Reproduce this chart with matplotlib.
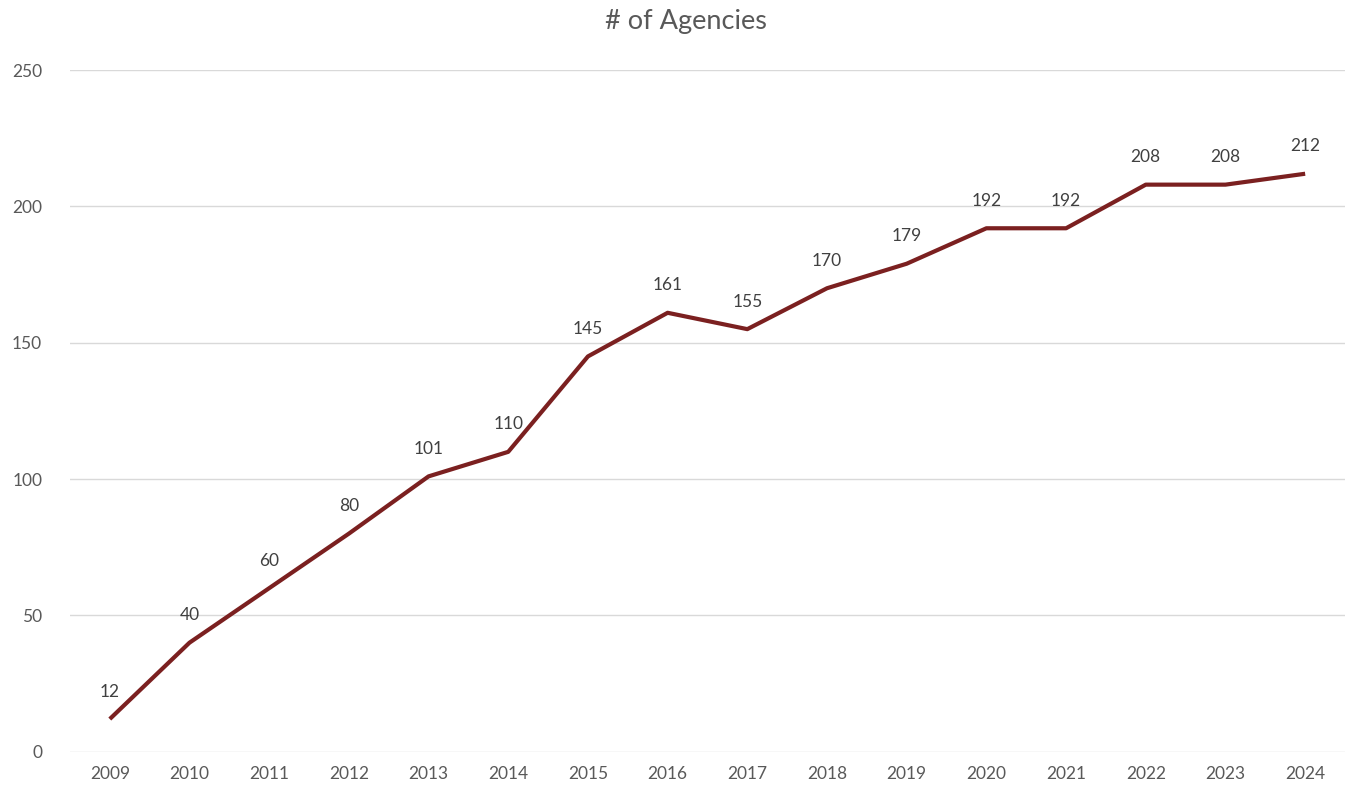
import matplotlib.pyplot as plt

years = ['2009', '2010', '2011', '2012', '2013', '2014', '2015', '2016',
         '2017', '2018', '2019', '2020', '2021', '2022', '2023', '2024']
agencies = [12, 40, 60, 80, 101, 110, 145, 161, 155, 170, 179, 192, 192, 208, 208, 212]

plt.rcParams['font.family'] = ['Lato', 'DejaVu Sans']

fig = plt.figure(figsize=(13.45, 7.88), dpi=100)
ax = fig.add_axes([0.052, 0.046, 0.948, 0.865])

x = range(len(years))
ax.plot(x, agencies, color='#7B2020', linewidth=3, solid_capstyle='butt')

# etiquetas de dados acima de cada ponto
for i, v in zip(x, agencies):
    ax.annotate(str(v), (i, v), xytext=(0, 14), textcoords='offset points',
                ha='center', va='bottom', fontsize=12.5, color='#404040')

ax.set_xlim(-0.5, len(years) - 0.5)
ax.set_ylim(0, 250)
ax.set_yticks([0, 50, 100, 150, 200, 250])
ax.set_xticks(list(x))
ax.set_xticklabels(years)
ax.tick_params(axis='both', length=0, labelsize=12.5, labelcolor='#595959')
ax.tick_params(axis='y', pad=20)
ax.tick_params(axis='x', pad=10)
ax.grid(axis='y', color='#D9D9D9', linewidth=1)
ax.set_axisbelow(True)
for s in ax.spines.values():
    s.set_visible(False)

fig.suptitle('# of Agencies', x=0.51, y=0.988, fontsize=19.5, color='#595959')

plt.savefig('out.png', dpi=100)
plt.close()
